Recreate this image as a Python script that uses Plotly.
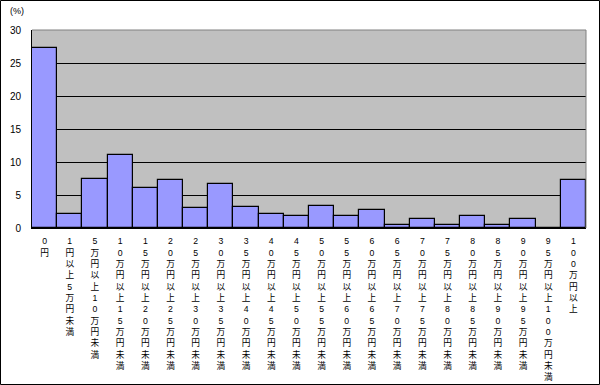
import plotly.graph_objects as go

categories = [
    "0円", "1円以上5万円未満", "5万円以上10万円未満", "10万円以上15万円未満",
    "15万円以上20万円未満", "20万円以上25万円未満", "25万円以上30万円未満",
    "30万円以上35万円未満", "35万円以上40万円未満", "40万円以上45万円未満",
    "45万円以上50万円未満", "50万円以上55万円未満", "55万円以上60万円未満",
    "60万円以上65万円未満", "65万円以上70万円未満", "70万円以上75万円未満",
    "75万円以上80万円未満", "80万円以上85万円未満", "85万円以上90万円未満",
    "90万円以上95万円未満", "95万円以上100万円未満", "100万円以上",
]
values = [27.2, 2.1, 7.4, 11.1, 6.0, 7.2, 3.1, 6.6, 3.2, 2.1, 1.8, 3.4,
          1.8, 2.8, 0.4, 1.3, 0.4, 1.8, 0.4, 1.3, 0.0, 7.2]
y_ticks = [0, 5, 10, 15, 20, 25, 30]

tick_text = ["<br>".join(list(c)) for c in categories]

fig = go.Figure(go.Bar(
    x=categories, y=values,
    marker=dict(color="#9999FF", line=dict(color="black", width=1.2)),
))

fig.update_layout(
    width=600, height=385,
    margin=dict(l=32, r=14, t=30, b=157),
    paper_bgcolor="white", plot_bgcolor="#C0C0C0",
    bargap=0, showlegend=False,
    font=dict(family="Liberation Sans, Noto Sans CJK JP", size=10, color="black"),
)
fig.update_xaxes(
    tickmode="array", tickvals=categories, ticktext=tick_text, tickangle=0,
    tickfont=dict(size=8.7, family="Liberation Sans, Noto Sans CJK JP"),
    showline=True, linecolor="black", linewidth=1, mirror=False,
    showgrid=False, automargin=False, ticklabelstandoff=5,
)
fig.update_yaxes(
    range=[0, 30], tickvals=y_ticks, showgrid=True, gridcolor="black", gridwidth=1,
    showline=True, linecolor="black", linewidth=1, zeroline=False,
    tickfont=dict(size=10), ticklabelstandoff=8, automargin=False,
)
# gray top/right plot border
fig.add_shape(type="line", xref="paper", yref="paper", x0=0, x1=1, y0=1, y1=1,
              line=dict(color="#808080", width=1))
fig.add_shape(type="line", xref="paper", yref="paper", x0=1, x1=1, y0=0, y1=1,
              line=dict(color="#808080", width=1))
# outer frame of the picture
fig.add_shape(type="rect", xref="paper", yref="paper",
              x0=-31.5/554, x1=1 + 13.5/554, y0=-156.5/198, y1=1 + 29.5/198,
              line=dict(color="black", width=1))
fig.add_annotation(text="(%)", xref="paper", yref="paper", x=-24/554, y=1 + 19/198,
                   xanchor="left", yanchor="middle", showarrow=False,
                   font=dict(size=9))

fig.write_html("out.html", config={"displayModeBar": False},
               post_script="document.body.style.margin='0';")
